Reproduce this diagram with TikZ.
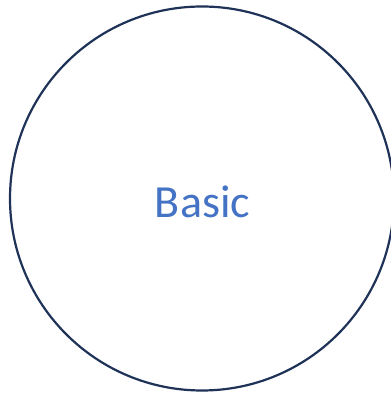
\documentclass[tikz,border=0pt]{standalone}
\usepackage{fontspec}
\setmainfont{Carlito}
\definecolor{RingNavy}{RGB}{31, 50, 88}
\definecolor{LabelBlue}{RGB}{68, 114, 196}
\usepackage{tikz}
\usetikzlibrary{positioning}

\begin{document}
\begin{tikzpicture}[
    x=1pt, y=1pt,
    ring/.style={circle, draw=RingNavy, line width=2.2pt, minimum size=384pt, inner sep=0pt},
    lbl/.style={font=\fontsize{46}{50}\selectfont, text=LabelBlue}
]
    \useasboundingbox (0,0) rectangle (390,395);
    \node[ring] (basic) at (202,196.5) {};
    \node[lbl] (name) at (202.5,193) {Basic};
\end{tikzpicture}
\end{document}
